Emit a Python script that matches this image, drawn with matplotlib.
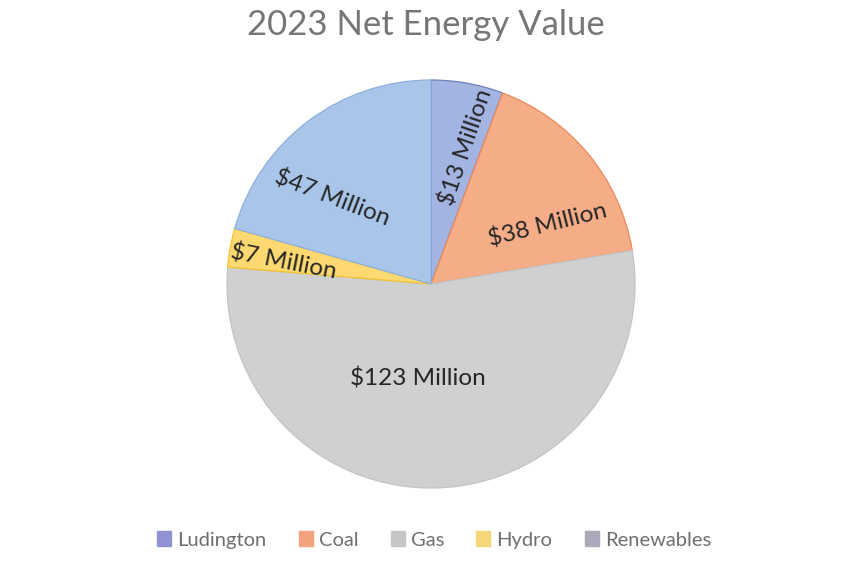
import numpy as np
import matplotlib.pyplot as plt
from matplotlib.patches import Patch

# net energy value by source, $ millions
sources = ["Ludington", "Coal", "Gas", "Hydro", "Renewables"]
values = [13, 38, 123, 7, 47]

slice_colors = ["#a3b4e2", "#f5ad88", "#d0d0d0", "#fed870", "#a9c6ea"]
edge_colors = ["#6f7fb8", "#ec8a5a", "#c4c4c4", "#f2c230", "#8fb0dc"]
legend_colors = ["#8f93d6", "#f2a27e", "#c6c6c6", "#f5d77a", "#a9a9b9"]

# label placement inside each slice: (radius fraction, angle deg, text rotation)
label_layout = [(0.69, 75.7, 71), (0.64, 27, 14), (0.47, -98, 0),
                (0.73, 171.5, -11), (0.64, 139, -21)]

plt.rcParams["font.family"] = ["Lato", "DejaVu Sans"]

W, H = 851, 575
fig = plt.figure(figsize=(W / 100, H / 100), dpi=100, facecolor="white")

cx, cy, r = 431, 284, 204
ax = fig.add_axes([(cx - r) / W, (H - cy - r) / H, 2 * r / W, 2 * r / H])

wedges, _ = ax.pie(values, colors=slice_colors, startangle=90, counterclock=False,
                   radius=1, wedgeprops={"linewidth": 0.9})
for w, ec in zip(wedges, edge_colors):
    w.set_edgecolor(ec)
ax.set_xlim(-1, 1)
ax.set_ylim(-1, 1)
ax.set_aspect("equal")

for v, (rf, ang, rot) in zip(values, label_layout):
    a = np.deg2rad(ang)
    ax.text(rf * np.cos(a), rf * np.sin(a), f"${v} Million", ha="center", va="center",
            rotation=rot, rotation_mode="anchor", fontsize=17.5, color="#262626")

fig.text(0.5, 1 - 25 / H, "2023 Net Energy Value", ha="center", va="center",
         fontsize=25, color="#767676")

handles = [Patch(facecolor=c, edgecolor=c) for c in legend_colors]
fig.legend(handles, sources, loc="center", bbox_to_anchor=(0.51, 1 - 540 / H), ncol=5,
           frameon=False, fontsize=14.5, labelcolor="#6f6f6f", handlelength=0.7,
           handleheight=0.7, handletextpad=0.3, columnspacing=1.6)

fig.savefig("out.png", dpi=100, facecolor="white")
